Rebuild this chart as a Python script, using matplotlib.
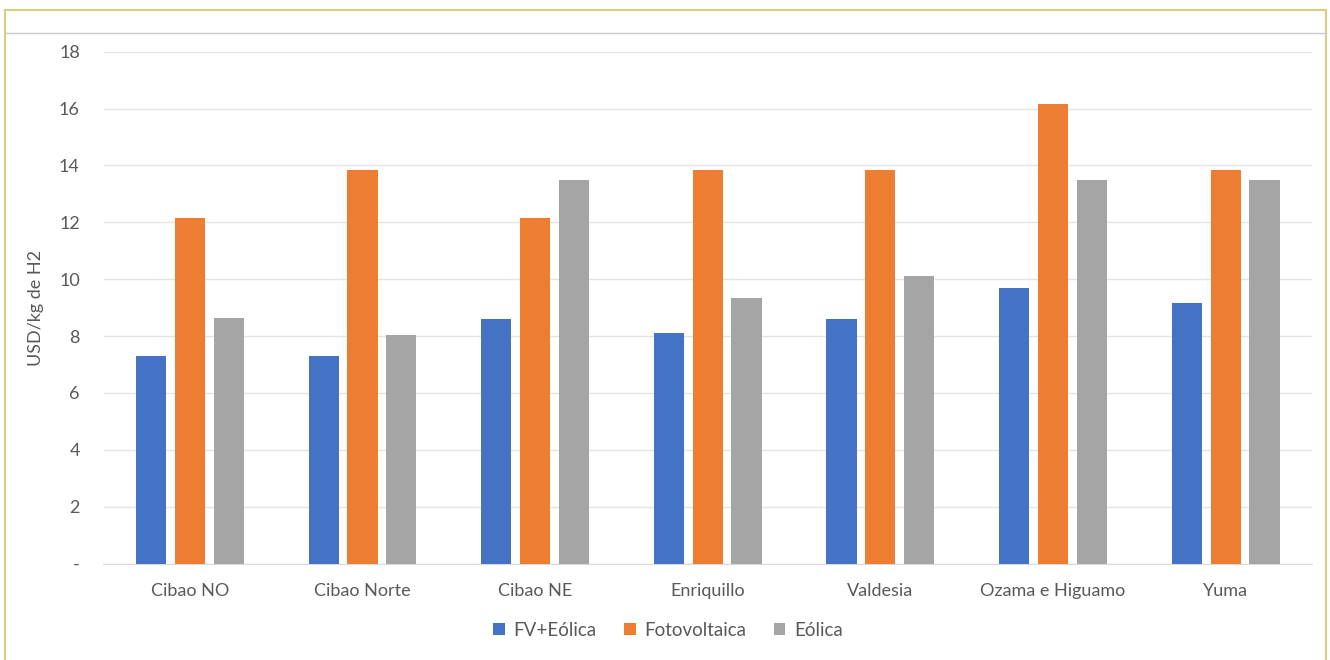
import matplotlib
matplotlib.use("Agg")
import matplotlib.pyplot as plt
from matplotlib.lines import Line2D
import numpy as np

regions = ["Cibao NO", "Cibao Norte", "Cibao NE", "Enriquillo", "Valdesia",
           "Ozama e Higuamo", "Yuma"]
fv_eolica = [7.3, 7.3, 8.6, 8.1, 8.6, 9.7, 9.15]
fotovoltaica = [12.15, 13.85, 12.15, 13.85, 13.85, 16.15, 13.85]
eolica = [8.65, 8.05, 13.5, 9.35, 10.1, 13.5, 13.5]
series_names = ["FV+Eólica", "Fotovoltaica", "Eólica"]
series_colors = ["#4472C4", "#ED7D31", "#A5A5A5"]
y_ticks = [0, 2, 4, 6, 8, 10, 12, 14, 16, 18]
y_tick_labels = ["-", "2", "4", "6", "8", "10", "12", "14", "16", "18"]

plt.rcParams["font.family"] = ["Lato", "DejaVu Sans"]
text_color = "#595959"

W, H = 1330, 660
fig = plt.figure(figsize=(W / 100, H / 100), dpi=100)
fig.patch.set_facecolor("white")

# Frame around the chart and separator line near the top
frame_color = "#D8CF80"
fig.add_artist(Line2D([5 / W, 5 / W], [0, 1 - 10 / H], transform=fig.transFigure,
                      color=frame_color, lw=1.5))
fig.add_artist(Line2D([1326 / W, 1326 / W], [0, 1 - 10 / H], transform=fig.transFigure,
                      color=frame_color, lw=1.5))
fig.add_artist(Line2D([5 / W, 1326 / W], [1 - 10 / H, 1 - 10 / H], transform=fig.transFigure,
                      color=frame_color, lw=1.5))
fig.add_artist(Line2D([5 / W, 1326 / W], [1 - 33 / H, 1 - 33 / H], transform=fig.transFigure,
                      color="#CBCBCB", lw=1.0))

left, right = 103.5 / W, 1312 / W
bottom, top = 1 - 563.6 / H, 1 - 51.7 / H
ax = fig.add_axes([left, bottom, right - left, top - bottom])

x = np.arange(len(regions))
step = 0.225
width = 0.175
for i, (vals, name, col) in enumerate(zip([fv_eolica, fotovoltaica, eolica],
                                          series_names, series_colors)):
    ax.bar(x + (i - 1) * step, vals, width=width, color=col, label=name, zorder=3)

ax.set_xlim(-0.5, len(regions) - 0.5)
ax.set_ylim(0, 18)
ax.set_yticks(y_ticks)
ax.set_yticklabels(y_tick_labels)
ax.set_xticks(x)
ax.set_xticklabels(regions)
ax.grid(axis="y", color="#E4E4E4", lw=1.0, zorder=0)
for s in ["top", "right", "left"]:
    ax.spines[s].set_visible(False)
ax.spines["bottom"].set_color("#DADADA")
ax.tick_params(axis="both", length=0, labelsize=13, colors=text_color)
ax.tick_params(axis="y", pad=17)
ax.tick_params(axis="x", pad=14)
ax.set_ylabel("USD/kg de H2", fontsize=13, color=text_color, labelpad=11)

handles, labels = ax.get_legend_handles_labels()
fig.legend(handles, labels, loc="center", bbox_to_anchor=(668 / W, 1 - 630 / H),
           ncol=3, frameon=False, fontsize=13.5, labelcolor=text_color,
           handlelength=0.6, handleheight=0.6, handletextpad=0.45,
           columnspacing=1.5)

fig.savefig("out.png", dpi=100)
